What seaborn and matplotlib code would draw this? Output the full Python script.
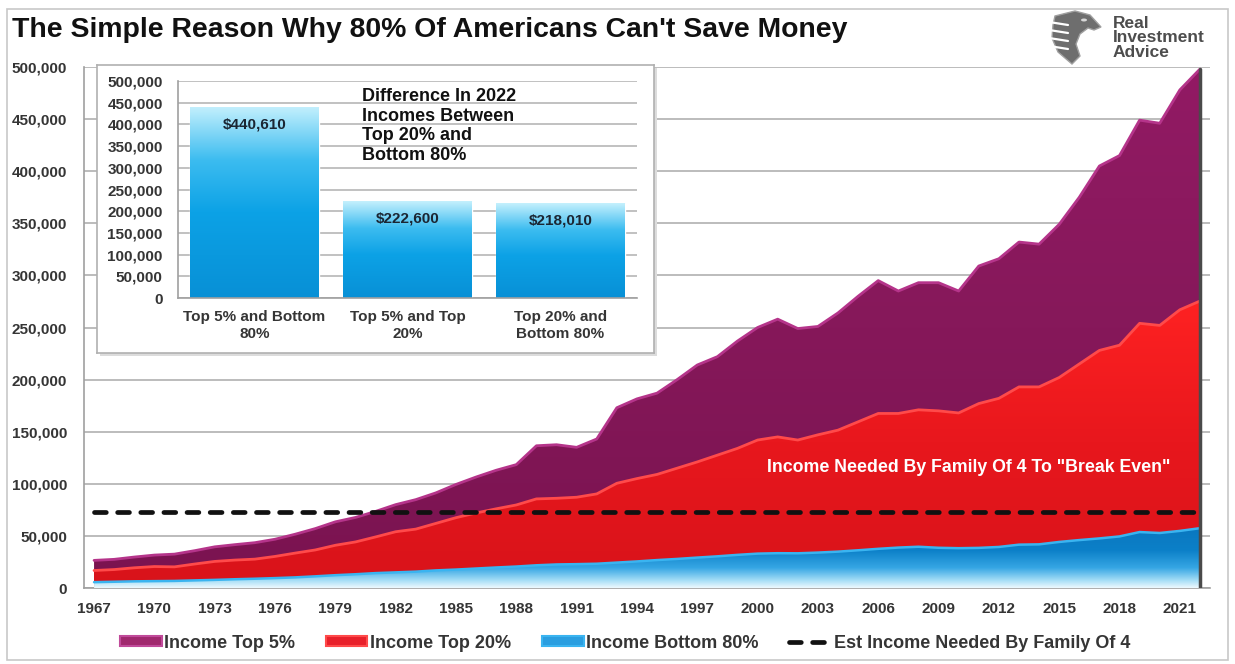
import numpy as np
import pandas as pd
import matplotlib
matplotlib.use("Agg")
import matplotlib.pyplot as plt
import seaborn as sns
from matplotlib.patches import Patch, Polygon, Ellipse
from matplotlib.lines import Line2D
from matplotlib.colors import LinearSegmentedColormap
from matplotlib.ticker import FuncFormatter, MultipleLocator

# ---------------- data ----------------
years = list(range(1967, 2023))
income_top5 = [26500, 27500, 29700, 31600, 32500, 35800, 39500, 41600, 43500, 46800,
               51600, 57000, 63500, 67700, 73500, 80000, 84800, 91300, 99400, 106500,
               113000, 118400, 136500, 137500, 135000, 143000, 173000, 181500, 187000, 200000,
               214000, 222000, 237000, 250000, 258000, 249000, 251000, 264000, 280000, 295000,
               285000, 293000, 293000, 285000, 309000, 316000, 332000, 330000, 349000, 375000,
               405000, 415000, 449000, 446000, 478000, 498000]
income_top20 = [16800, 17700, 19400, 20600, 20300, 23000, 25500, 26800, 27700, 30300,
                33500, 36500, 41000, 44200, 49000, 54000, 56500, 62000, 67500, 72000,
                76000, 79700, 85500, 86100, 87100, 90300, 100500, 105000, 109000, 115000,
                121000, 127500, 134000, 142000, 145000, 142000, 147000, 151500, 159500, 167500,
                167500, 171000, 170000, 168000, 177000, 182000, 193000, 193000, 202000, 215000,
                228000, 233000, 254000, 252000, 267000, 275400]
income_bottom80 = [5600, 6000, 6400, 6600, 6800, 7300, 7800, 8400, 8900, 9500,
                   10200, 11200, 12300, 13200, 14300, 15000, 15700, 16900, 17700, 18700,
                   19700, 20600, 21800, 22600, 22900, 23300, 24400, 25500, 26800, 27900,
                   29200, 30400, 31800, 33000, 33400, 33300, 34000, 34900, 36200, 37600,
                   38800, 39600, 38600, 38200, 38500, 39400, 41600, 41900, 44200, 46000,
                   47600, 49500, 53700, 52800, 54800, 57400]
breakeven_income = 73000

diff_categories = ["Top 5% and Bottom\n80%", "Top 5% and Top\n20%", "Top 20% and\nBottom 80%"]
diff_values = [440610, 222600, 218010]
diff_labels = ["$440,610", "$222,600", "$218,010"]

x_tick_years = years[::3]
main_yticks = list(range(0, 500001, 50000))

# ---------------- style ----------------
sns.set_style("white")
plt.rcParams["font.family"] = ["Liberation Sans", "DejaVu Sans"]
plt.rcParams["font.weight"] = "bold"

W, H = 1235, 664
fig = plt.figure(figsize=(W / 100, H / 100), dpi=100)


def fx(px):
    return px / W


def fy(py):
    return 1 - py / H


PURPLE = "#871a5c"
PURPLE_EDGE = "#b5348a"
RED_EDGE = "#ff4a4a"
BLUE_EDGE = "#3ab4f0"
TXT = "#353535"
GRID = "#b6b6b6"

df = pd.DataFrame({"year": years, "top5": income_top5, "top20": income_top20,
                   "bottom80": income_bottom80})
df["breakeven"] = breakeven_income

# outer frame
fig.add_artist(plt.Rectangle((fx(7), fy(660)), fx(1228 - 7), fy(9) - fy(660),
                             transform=fig.transFigure, fill=False, ec="#c8c8c8", lw=1.2))

# ---------------- main axes ----------------
ax = fig.add_axes([fx(84), fy(588), fx(1210 - 84), fy(67) - fy(588)])


def gradient_area(ax, x, y, colors, vmax, z):
    poly = ax.fill_between(x, y, color="none", lw=0, zorder=z)
    cmap = LinearSegmentedColormap.from_list("g", colors)
    g = np.linspace(0, 1, 256).reshape(-1, 1)
    im = ax.imshow(g, extent=[x[0], x[-1], 0, vmax], origin="lower", aspect="auto",
                   cmap=cmap, zorder=z, interpolation="bilinear")
    im.set_clip_path(poly.get_paths()[0], transform=ax.transData)
    return im


gradient_area(ax, df["year"].values, df["top5"].values,
              ["#7a1350", "#86185a", "#921a64"], 500000, 1)
sns.lineplot(data=df, x="year", y="top5", ax=ax, color=PURPLE_EDGE, lw=2, zorder=1.5)

gradient_area(ax, df["year"].values, df["top20"].values,
              ["#d8131a", "#e8171d", "#ff2222"], 280000, 2)
sns.lineplot(data=df, x="year", y="top20", ax=ax, color=RED_EDGE, lw=2, zorder=2.5)

gradient_area(ax, df["year"].values, df["bottom80"].values,
              [(0, "#eef9fe"), (0.12, "#a6def6"), (0.32, "#36a6e4"), (0.6, "#0c80c8"),
               (1.0, "#0a76be")], 60000, 3)
sns.lineplot(data=df, x="year", y="bottom80", ax=ax, color=BLUE_EDGE, lw=1.8, zorder=3.5)

# 3D-like right side shadow of the area
ax.plot([years[-1], years[-1]], [0, income_top5[-1]], color="#4a4a4a", lw=2.5, zorder=4)

sns.lineplot(data=df, x="year", y="breakeven", ax=ax, color="#111111", lw=3.4,
             linestyle=(0, (2.5, 2.4)), dash_capstyle="round", zorder=5)

ax.text(2010.5, 116000, 'Income Needed By Family Of 4 To "Break Even"', color="white",
        fontsize=12.8, fontweight="bold", ha="center", va="center", zorder=6)

ax.set_xlim(1966.5, 2022.5)
ax.set_ylim(0, 500000)
ax.set_xlabel("")
ax.set_ylabel("")
ax.set_xticks(x_tick_years)
ax.xaxis.set_minor_locator(MultipleLocator(1))
ax.set_yticks(main_yticks)
ax.yaxis.set_major_formatter(FuncFormatter(lambda v, p: f"{int(v):,}"))
ax.tick_params(axis="both", which="both", direction="out", color="#9a9a9a", width=1)
ax.tick_params(axis="x", which="major", length=6, labelsize=11, labelcolor=TXT, pad=4)
ax.tick_params(axis="x", which="minor", length=5)
ax.tick_params(axis="y", length=6, labelsize=11, labelcolor=TXT, pad=6)
for lab in ax.get_xticklabels() + ax.get_yticklabels():
    lab.set_fontweight("bold")
ax.yaxis.grid(True, color=GRID, lw=1.3)
ax.set_axisbelow(True)
for s in ["top", "right"]:
    ax.spines[s].set_visible(False)
for s in ["left", "bottom"]:
    ax.spines[s].set_color("#a0a0a0")
    ax.spines[s].set_linewidth(1.2)

# ---------------- title & logo ----------------
fig.text(fx(12), fy(30), "The Simple Reason Why 80% Of Americans Can't Save Money",
         fontsize=20.4, fontweight="bold", color="#111111", ha="left", va="center")
fig.text(fx(1113), fy(38), "Real\nInvestment\nAdvice", fontsize=12.5, fontweight="bold",
         color="#4d4d4d", ha="left", va="center", linespacing=0.95)
eagle = [(1055, 16), (1075, 11), (1090, 15), (1101, 27), (1094, 30), (1088, 28),
         (1080, 34), (1076, 44), (1080, 56), (1072, 64), (1058, 52), (1052, 38),
         (1053, 25)]
fig.add_artist(Polygon([(fx(a), fy(b)) for a, b in eagle], closed=True,
                       transform=fig.transFigure, fc="#6e6e6e", ec="#a0a0a0", lw=1))
for yy in (22, 30, 38, 46):
    fig.add_artist(Line2D([fx(1049), fx(1068)], [fy(yy), fy(yy + 3)],
                          transform=fig.transFigure, color="white", lw=1.6))
fig.add_artist(Ellipse((fx(1084), fy(20)), fx(6), 3 / H, transform=fig.transFigure,
                       fc="#d8d8d8", ec="none"))

# ---------------- inset ----------------
shadow_ax = fig.add_axes([fx(100), fy(356), fx(557), fy(65) - fy(353)])
shadow_ax.set_facecolor("#dcdcdc")
shadow_ax.set_xticks([])
shadow_ax.set_yticks([])
for s in shadow_ax.spines.values():
    s.set_visible(False)

box_ax = fig.add_axes([fx(97), fy(353), fx(557), fy(65) - fy(353)])
box_ax.set_facecolor("white")
box_ax.set_xticks([])
box_ax.set_yticks([])
for s in box_ax.spines.values():
    s.set_color("#b0b0b0")
    s.set_linewidth(1.2)

iax = fig.add_axes([fx(178), fy(298), fx(637 - 178), fy(81) - fy(298)])
sns.barplot(x=diff_categories, y=diff_values, ax=iax, color="#1aa3e4", width=0.84,
            saturation=1, zorder=2)
bar_cmap = LinearSegmentedColormap.from_list(
    "bar", [(0, "#0890d6"), (0.45, "#0ca2e6"), (0.72, "#3cbcf0"), (1.0, "#c4f0fd")])
g = np.linspace(0, 1, 256).reshape(-1, 1)
for p, lab in zip(iax.patches, diff_labels):
    x0, w, h = p.get_x(), p.get_width(), p.get_height()
    im = iax.imshow(g, extent=[x0, x0 + w, 0, h], origin="lower", aspect="auto",
                    cmap=bar_cmap, zorder=2.5, interpolation="bilinear")
    im.set_clip_path(p)
    iax.text(x0 + w / 2, h - 40000, lab, ha="center", va="center", fontsize=11,
             fontweight="bold", color="#1b2633", zorder=4)

iax.text(0.70, 484000, "Difference In 2022\nIncomes Between\nTop 20% and\nBottom 80%",
         ha="left", va="top", fontsize=13, fontweight="bold", color="#111111",
         linespacing=1.2, zorder=5)

iax.set_xlim(-0.5, 2.5)
iax.set_ylim(0, 500000)
iax.set_yticks(main_yticks)
iax.yaxis.set_major_formatter(FuncFormatter(lambda v, p: f"{int(v):,}"))
iax.set_xticks(range(len(diff_categories)))
iax.set_xticklabels(diff_categories)
iax.set_xticks([-0.5, 0.5, 1.5, 2.5], minor=True)
iax.tick_params(axis="x", which="major", length=0, labelsize=11, labelcolor=TXT, pad=9)
iax.tick_params(axis="x", which="minor", length=5, color="#9a9a9a", direction="out")
iax.tick_params(axis="y", length=3, color="#9a9a9a", labelsize=11, labelcolor=TXT, pad=8)
for lab in iax.get_xticklabels() + iax.get_yticklabels():
    lab.set_fontweight("bold")
iax.yaxis.grid(True, color=GRID, lw=1.2)
iax.set_axisbelow(True)
iax.set_xlabel("")
iax.set_ylabel("")
for s in ["top", "right"]:
    iax.spines[s].set_visible(False)
for s in ["left", "bottom"]:
    iax.spines[s].set_color("#a0a0a0")
    iax.spines[s].set_linewidth(1.2)

# ---------------- legend ----------------
handles = [
    Patch(facecolor="#a0286e", edgecolor="#c04a9a", lw=1.5),
    Patch(facecolor="#e8202a", edgecolor=RED_EDGE, lw=1.5),
    Patch(facecolor="#2a9ee0", edgecolor=BLUE_EDGE, lw=1.5),
    Line2D([0], [0], color="#111111", lw=3.4, linestyle=(0, (2.5, 2.4)),
           dash_capstyle="round"),
]
labels = ["Income Top 5%", "Income Top 20%", "Income Bottom 80%",
          "Est Income Needed By Family Of 4"]
fig.legend(handles, labels, loc="center", bbox_to_anchor=(fx(625), fy(643)), ncol=4,
           frameon=False, handlelength=2.3, handleheight=0.5, handletextpad=0.15,
           columnspacing=1.7, labelcolor=TXT, prop={"weight": "bold", "size": 13})

fig.savefig("out.png", dpi=100)
